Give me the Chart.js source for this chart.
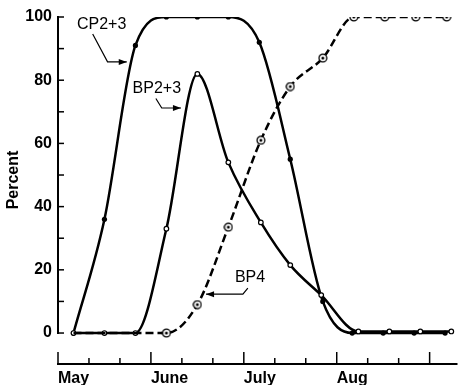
<!DOCTYPE html>
<html lang="en">
<head>
  <meta charset="UTF-8" />
  <title>Percent by month</title>
  <script src="https://cdn.jsdelivr.net/npm/chart.js"></script>
  <style>
    body { margin: 0; background: #fff; }
    #wrap { width: 464px; height: 385px; }
  </style>
</head>
<body>
  <div id="wrap"><canvas id="chart" width="464" height="385"></canvas></div>

  <script>
    // x is measured in ten-day steps from the start of May
    const monthLabels = ["May", "June", "July", "Aug"];
    const monthTicks = [0, 3, 6, 9];
    const xTickSteps = [0, 1, 2, 3, 4, 5, 6, 7, 8, 9, 10, 11, 12];
    const yLabelTicks = [0, 20, 40, 60, 80, 100];
    const yMarkTicks = [0, 10, 20, 30, 40, 50, 60, 70, 80, 90, 100];

    const cpX = [0.5, 1.5, 2.5, 3.5, 4.5, 5.5, 6.5, 7.5, 8.55, 9.5, 10.5, 11.5, 12.5];
    const cpY = [0, 36, 91, 100, 100, 100, 92, 55, 10, 0, 0, 0, 0];

    const bpX = [0.5, 1.5, 2.5, 3.5, 4.5, 5.5, 6.55, 7.5, 8.5, 9.7, 10.7, 11.7, 12.7];
    const bpY = [0, 0, 0, 33, 82, 54, 35, 21.5, 12, 0.5, 0.5, 0.5, 0.5];

    const bp4X = [0.5, 1.5, 2.5, 3.5, 4.5, 5.5, 6.55, 7.5, 8.55, 9.55, 10.55, 11.55, 12.55];
    const bp4Y = [0, 0, 0, 0, 9, 33.5, 61, 78, 87, 100, 100, 100, 100];

    // labels with their arrows, in data units
    const notes = [
      { text: "CP2+3", at: [1.41, 97.6], arrow: [[1.12, 94.6], [1.6, 85.8], [2.22, 85.8]] },
      { text: "BP2+3", at: [3.19, 77.5], arrow: [[3.16, 74.2], [3.35, 71.2], [3.97, 71.2]] },
      { text: "BP4", at: [6.2, 17.4], arrow: [[6.13, 14.2], [5.97, 12.3], [4.78, 12.3]] }
    ];

    const font = "'Liberation Sans', Arial, sans-serif";

    function pairs(xs, ys) {
      return xs.map((x, i) => ({ x: x, y: ys[i] }));
    }

    // circle with a dot in it
    const ringDot = document.createElement("canvas");
    ringDot.width = 10;
    ringDot.height = 10;
    (function () {
      const c = ringDot.getContext("2d");
      c.fillStyle = "#fff";
      c.strokeStyle = "#000";
      c.lineWidth = 1.3;
      c.beginPath();
      c.arc(5, 5, 3.9, 0, Math.PI * 2);
      c.fill();
      c.stroke();
      c.fillStyle = "#000";
      c.beginPath();
      c.arc(5, 5, 1.5, 0, Math.PI * 2);
      c.fill();
    })();

    const axesPlugin = {
      id: "handAxes",
      beforeDatasetsDraw(chart) {
        const ctx = chart.ctx;
        const xs = chart.scales.x;
        const ys = chart.scales.y;
        const area = chart.chartArea;
        ctx.save();
        ctx.strokeStyle = "#000";
        ctx.lineCap = "butt";

        // y axis, 0 to 100 only
        const y0 = ys.getPixelForValue(0);
        const y100 = ys.getPixelForValue(100);
        ctx.lineWidth = 2;
        ctx.beginPath();
        ctx.moveTo(area.left, y0 + 1);
        ctx.lineTo(area.left, y100 - 1);
        ctx.stroke();
        ctx.lineWidth = 1.5;
        yMarkTicks.forEach(v => {
          const p = ys.getPixelForValue(v);
          ctx.beginPath();
          ctx.moveTo(area.left, p);
          ctx.lineTo(area.left + 6, p);
          ctx.stroke();
        });

        // x axis, set below the plot
        ctx.lineWidth = 2;
        ctx.beginPath();
        ctx.moveTo(area.left - 1, area.bottom);
        ctx.lineTo(area.right, area.bottom);
        ctx.stroke();
        ctx.lineWidth = 1.5;
        xTickSteps.forEach(v => {
          const p = xs.getPixelForValue(v);
          const len = v % 3 === 0 ? 12 : 6;
          ctx.beginPath();
          ctx.moveTo(p, area.bottom);
          ctx.lineTo(p, area.bottom - len);
          ctx.stroke();
        });

        // axis title
        ctx.fillStyle = "#000";
        ctx.font = "bold 16px " + font;
        ctx.textAlign = "center";
        ctx.textBaseline = "middle";
        ctx.translate(14, (y0 + y100) / 2 + 5);
        ctx.rotate(-Math.PI / 2);
        ctx.fillText("Percent", 0, 0);
        ctx.restore();
      },
      afterDatasetsDraw(chart) {
        const ctx = chart.ctx;
        const xs = chart.scales.x;
        const ys = chart.scales.y;
        ctx.save();
        ctx.fillStyle = "#000";
        ctx.strokeStyle = "#000";
        ctx.font = "16px " + font;
        ctx.textAlign = "center";
        ctx.textBaseline = "middle";
        notes.forEach(n => {
          ctx.fillText(n.text, xs.getPixelForValue(n.at[0]), ys.getPixelForValue(n.at[1]));
          const pts = n.arrow.map(p => [xs.getPixelForValue(p[0]), ys.getPixelForValue(p[1])]);
          ctx.lineWidth = 1.2;
          ctx.beginPath();
          pts.forEach((p, i) => i ? ctx.lineTo(p[0], p[1]) : ctx.moveTo(p[0], p[1]));
          ctx.stroke();
          const tip = pts[pts.length - 1];
          const prev = pts[pts.length - 2];
          const ang = Math.atan2(tip[1] - prev[1], tip[0] - prev[0]);
          ctx.beginPath();
          ctx.moveTo(tip[0], tip[1]);
          ctx.lineTo(tip[0] - 8 * Math.cos(ang) + 3 * Math.sin(ang), tip[1] - 8 * Math.sin(ang) - 3 * Math.cos(ang));
          ctx.lineTo(tip[0] - 8 * Math.cos(ang) - 3 * Math.sin(ang), tip[1] - 8 * Math.sin(ang) + 3 * Math.cos(ang));
          ctx.closePath();
          ctx.fill();
        });
        ctx.restore();
      }
    };

    Chart.defaults.color = "#000";
    Chart.defaults.font.family = font;

    new Chart(document.getElementById("chart"), {
      type: "line",
      data: {
        datasets: [
          {
            label: "BP4",
            data: pairs(bp4X, bp4Y),
            borderColor: "#000",
            borderWidth: 2.5,
            borderDash: [8, 4],
            cubicInterpolationMode: "monotone",
            pointStyle: ringDot,
            pointRadius: bp4X.map((_, i) => i < 3 ? 0 : 4)
          },
          {
            label: "BP2+3",
            data: pairs(bpX, bpY),
            borderColor: "#000",
            borderWidth: 2.5,
            cubicInterpolationMode: "monotone",
            pointRadius: 2.3,
            pointBorderWidth: 1.2,
            pointBackgroundColor: "#fff",
            pointBorderColor: "#000"
          },
          {
            label: "CP2+3",
            data: pairs(cpX, cpY),
            borderColor: "#000",
            borderWidth: 2.5,
            cubicInterpolationMode: "monotone",
            pointRadius: 2.6,
            pointBorderWidth: 0,
            pointBackgroundColor: "#000"
          }
        ]
      },
      options: {
        responsive: false,
        animation: false,
        layout: { padding: { top: 17, right: 2, left: 0, bottom: 0 } },
        plugins: {
          legend: { display: false },
          tooltip: { enabled: false }
        },
        scales: {
          x: {
            type: "linear",
            min: 0,
            max: 12.9,
            afterBuildTicks: s => { s.ticks = monthTicks.map(v => ({ value: v })); },
            afterFit: s => { s.height = 21; },
            ticks: {
              align: "start",
              padding: 5,
              font: { size: 16, weight: "bold" },
              callback: v => monthLabels[monthTicks.indexOf(v)]
            },
            grid: { display: false, drawTicks: false, tickLength: 0 },
            border: { display: false }
          },
          y: {
            min: -9.8,
            max: 100,
            afterBuildTicks: s => { s.ticks = yLabelTicks.map(v => ({ value: v })); },
            afterFit: s => { s.width = 58; },
            ticks: {
              padding: 6,
              font: { size: 16, weight: "bold" }
            },
            grid: { display: false, drawTicks: false, tickLength: 0 },
            border: { display: false }
          }
        }
      },
      plugins: [axesPlugin]
    });
  </script>
</body>
</html>
